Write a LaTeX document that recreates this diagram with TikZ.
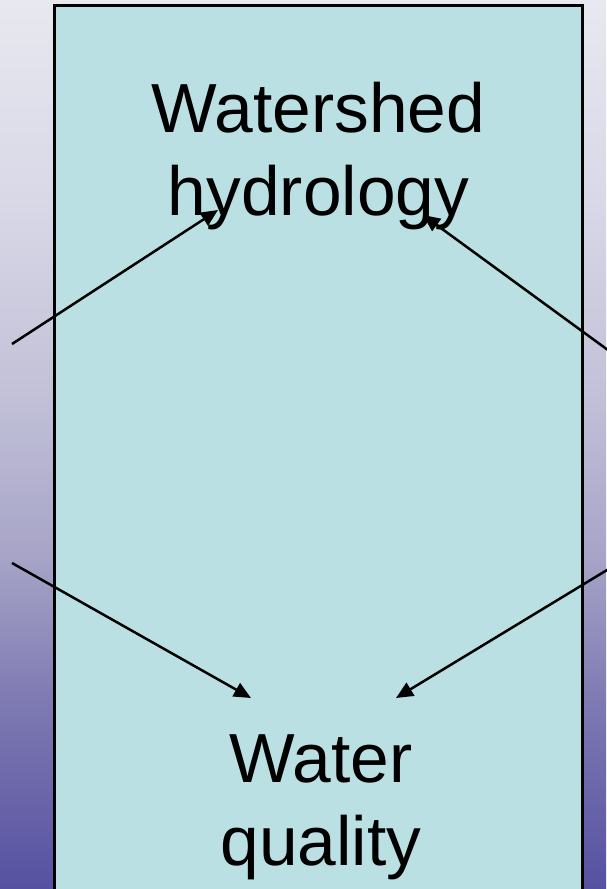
\documentclass[tikz,border=0pt]{standalone}
\usepackage{fontspec}
\setmainfont{Liberation Sans}
\usetikzlibrary{arrows.meta}
\definecolor{panelfill}{HTML}{BAE0E3}
\definecolor{bgtop}{HTML}{E8E8F0}
\definecolor{bgtwo}{HTML}{D8D8E7}
\definecolor{bgmid}{HTML}{C1C0D7}
\definecolor{bglow}{HTML}{A6A3C7}
\definecolor{bgdeep}{HTML}{7E7AB2}
\definecolor{bgbottom}{HTML}{5651A1}
\pgfdeclareverticalshading{slideshade}{100bp}{color(0bp)=(bgbottom); color(25bp)=(bgbottom); color(35.6bp)=(bgdeep); color(43.5bp)=(bglow); color(52.5bp)=(bgmid); color(63.75bp)=(bgtwo); color(75bp)=(bgtop); color(100bp)=(bgtop)}
\begin{document}
\begin{tikzpicture}[x=1pt, y=-1pt,
  every node/.style={align=center, font=\fontsize{69.5}{83}\selectfont, inner sep=0pt},
  flow/.style={-{Triangle[length=17pt, width=15pt]}, line width=2.5pt, black}]
  \useasboundingbox (0,0) rectangle (606,889);
  % Slide background and central panel
  \shade[shading=slideshade] (0,0) rectangle (606,889);
  \draw[fill=panelfill, line width=3pt] (54,5) rectangle (582,900);

  % Labels (base = last line)
  \node[anchor=base] (hydro) at (318.5,215) {Watershed\\hydrology};
  \node[anchor=base] (quality) at (321,865) {Water\\quality};

  % Arrow ends
  \coordinate (inA) at (12,344);
  \coordinate (inB) at (612,353);
  \coordinate (inC) at (12,563);
  \coordinate (inD) at (612,567);
  \coordinate (tipA) at (218,210);
  \coordinate (tipB) at (423,215);
  \coordinate (tipC) at (251,698);
  \coordinate (tipD) at (396,698);

  % Inputs from outside the panel
  \draw[flow] (inA) -- (tipA);
  \draw[flow] (inB) -- (tipB);
  \draw[flow] (inC) -- (tipC);
  \draw[flow] (inD) -- (tipD);
\end{tikzpicture}
\end{document}
